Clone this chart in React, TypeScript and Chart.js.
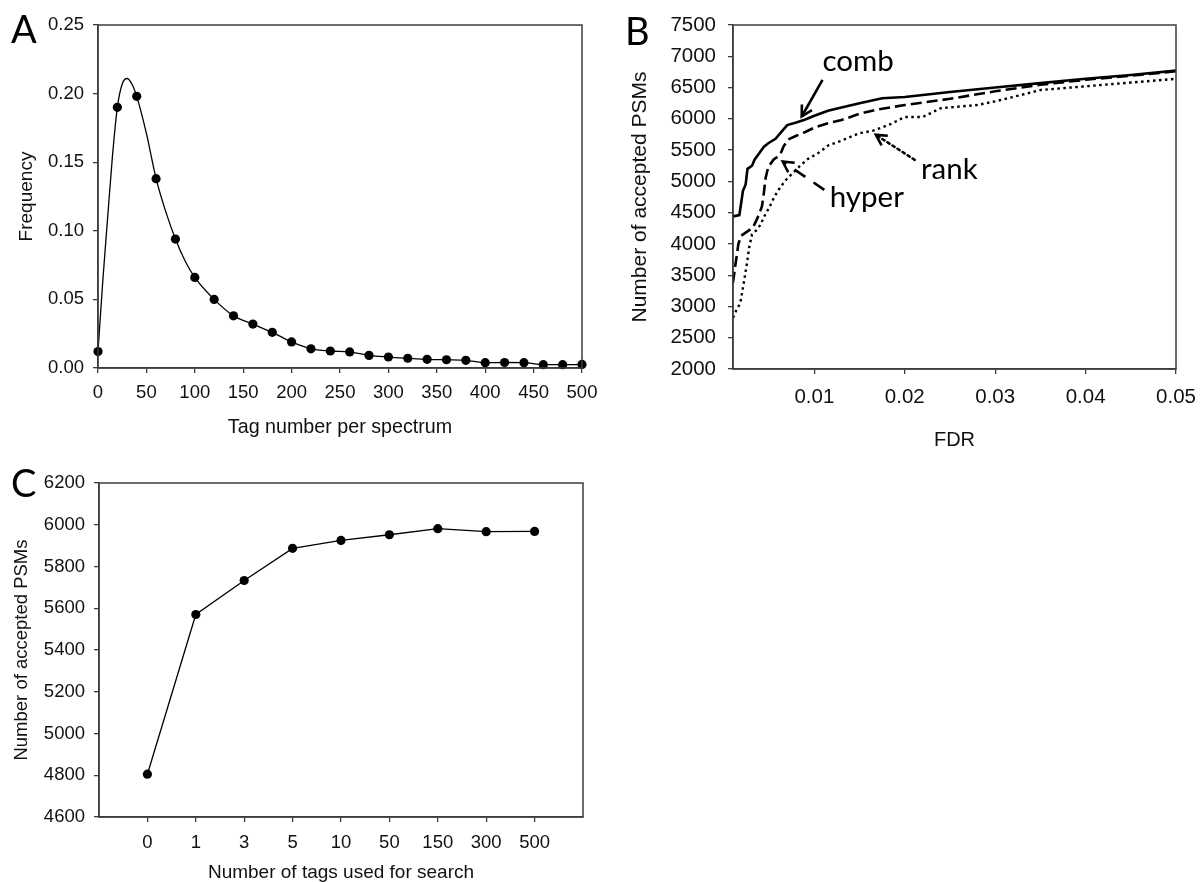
import React, { useEffect, useRef } from 'react';
import { Chart, registerables } from 'chart.js';

Chart.register(...registerables);

// ---------- Panel A data ----------
const tagNumbers = [0, 20, 40, 60, 80, 100, 120, 140, 160, 180, 200, 220, 240, 260, 280, 300, 320, 340, 360, 380, 400, 420, 440, 460, 480, 500];
const tagFrequency = [0.012, 0.19, 0.198, 0.138, 0.094, 0.066, 0.05, 0.038, 0.032, 0.026, 0.019, 0.014, 0.0124, 0.0117, 0.0092, 0.008, 0.0071, 0.0063, 0.006, 0.0056, 0.0039, 0.004, 0.0039, 0.0024, 0.0024, 0.0026];
const fitTagNumbers = [0, 5, 10, 15, 20, 25, 30, 35, 40, 50, 60, 70, 80, 90, 100, 120, 140, 160, 180, 200, 220, 240, 260, 280, 300, 320, 340, 360, 380, 400, 420, 440, 460, 480, 500];
const fitFrequency = [0.012, 0.064, 0.11, 0.155, 0.19, 0.207, 0.211, 0.207, 0.198, 0.171, 0.138, 0.114, 0.094, 0.078, 0.066, 0.05, 0.038, 0.032, 0.026, 0.019, 0.014, 0.0124, 0.0117, 0.0092, 0.008, 0.0071, 0.0063, 0.006, 0.0056, 0.0039, 0.004, 0.0039, 0.0024, 0.0024, 0.0026];
const aXTicks = [0, 50, 100, 150, 200, 250, 300, 350, 400, 450, 500];
const aYTicks = [0, 0.05, 0.1, 0.15, 0.2, 0.25];

// ---------- Panel B data ----------
const combFDR = [0.001, 0.0017, 0.0019, 0.0021, 0.0024, 0.0026, 0.0031, 0.0034, 0.0039, 0.0044, 0.0049, 0.0057, 0.0064, 0.007, 0.008, 0.009, 0.01, 0.0115, 0.013, 0.015, 0.0175, 0.02, 0.025, 0.03, 0.035, 0.04, 0.045, 0.05];
const combPSMs = [4440, 4460, 4650, 4850, 4950, 5200, 5250, 5350, 5450, 5550, 5610, 5680, 5800, 5900, 5940, 5990, 6050, 6130, 6180, 6250, 6330, 6350, 6430, 6500, 6570, 6640, 6700, 6770];
const hyperFDR = [0.001, 0.0013, 0.0016, 0.0019, 0.0026, 0.0032, 0.0036, 0.0039, 0.0042, 0.0044, 0.0046, 0.0049, 0.0055, 0.0062, 0.0066, 0.0071, 0.008, 0.009, 0.01, 0.0115, 0.013, 0.015, 0.017, 0.02, 0.025, 0.03, 0.035, 0.04, 0.045, 0.05];
const hyperPSMs = [3380, 3700, 4000, 4130, 4200, 4260, 4380, 4480, 4600, 4800, 5050, 5230, 5350, 5420, 5560, 5670, 5730, 5790, 5860, 5930, 5980, 6080, 6150, 6220, 6320, 6440, 6545, 6625, 6690, 6760];
const rankFDR = [0.001, 0.0014, 0.0018, 0.0021, 0.0025, 0.0028, 0.0031, 0.0036, 0.004, 0.0045, 0.005, 0.0056, 0.0062, 0.0069, 0.0078, 0.0085, 0.0093, 0.0105, 0.0116, 0.0128, 0.015, 0.0165, 0.0185, 0.02, 0.022, 0.024, 0.028, 0.03, 0.032, 0.035, 0.04, 0.045, 0.05];
const rankPSMs = [2820, 2950, 3050, 3300, 3650, 3950, 4150, 4220, 4300, 4450, 4580, 4760, 4900, 5030, 5160, 5260, 5360, 5460, 5580, 5640, 5770, 5810, 5920, 6030, 6030, 6170, 6220, 6280, 6350, 6460, 6520, 6580, 6640];
const bXTicks = [0.01, 0.02, 0.03, 0.04, 0.05];
const bYTicks = [2000, 2500, 3000, 3500, 4000, 4500, 5000, 5500, 6000, 6500, 7000, 7500];

// annotations (data coordinates)
const noteLabels = ['comb', 'hyper', 'rank'];
const noteFDR = [0.0109, 0.0117, 0.0218];
const notePSMs = [6768, 4592, 5040];
const arrowFromFDR = [0.0109, 0.0111, 0.0211];
const arrowFromPSMs = [6624, 4864, 5344];
const arrowToFDR = [0.0086, 0.0065, 0.0168];
const arrowToPSMs = [6037, 5317, 5744];

// ---------- Panel C data ----------
const tagCountLabels = ['0', '1', '3', '5', '10', '50', '150', '300', '500'];
const acceptedPSMs = [4805, 5570, 5733, 5887, 5925, 5952, 5981, 5967, 5968];
const cYTicks = [4600, 4800, 5000, 5200, 5400, 5600, 5800, 6000, 6200];

const AXIS_COLOR = '#3c3c3c';
const TEXT_COLOR = '#111';
const SANS = "'Liberation Sans', Arial, sans-serif";
const NOTE_FONT = "Lato, 'Open Sans', sans-serif";

const framePlugin = {
  id: 'frameBox',
  afterDraw(chart: any) {
    const { ctx, chartArea: a } = chart;
    ctx.save();
    ctx.strokeStyle = AXIS_COLOR;
    ctx.lineWidth = 1.5;
    ctx.strokeRect(a.left, a.top, a.right - a.left, a.bottom - a.top);
    ctx.restore();
  },
};

function fixedTicks(values: number[]) {
  return (scale: any) => {
    scale.ticks = values.map((v) => ({ value: v }));
  };
}

function makeScale(o: any) {
  return {
    type: 'linear',
    min: o.min,
    max: o.max,
    afterBuildTicks: fixedTicks(o.ticks),
    afterFit: (s: any) => {
      if (o.width !== undefined) s.width = o.width;
      if (o.height !== undefined) s.height = o.height;
      s.paddingLeft = 0;
      s.paddingRight = 0;
      s.paddingTop = 0;
      s.paddingBottom = 0;
    },
    border: { display: true, color: AXIS_COLOR, width: 1.5 },
    grid: { display: true, drawOnChartArea: false, drawTicks: true, tickLength: 5, color: AXIS_COLOR, lineWidth: 1.3 },
    ticks: {
      color: TEXT_COLOR,
      font: { family: SANS, size: o.tickSize },
      padding: o.tickPad,
      maxRotation: 0,
      autoSkip: false,
      callback: o.format,
    },
    title: {
      display: true,
      text: o.title,
      color: TEXT_COLOR,
      font: { family: SANS, size: o.titleSize },
      padding: o.titlePad,
    },
  };
}

const notesPlugin = {
  id: 'notes',
  afterDatasetsDraw(chart: any) {
    const { ctx } = chart;
    const xs = chart.scales.x;
    const ys = chart.scales.y;
    const dashes = [[], [13, 10], [2.5, 3.5]];
    ctx.save();
    ctx.fillStyle = '#000';
    ctx.font = `29.5px ${NOTE_FONT}`;
    ctx.textAlign = 'left';
    ctx.textBaseline = 'alphabetic';
    noteLabels.forEach((t, i) => {
      ctx.fillText(t, xs.getPixelForValue(noteFDR[i]), ys.getPixelForValue(notePSMs[i]));
    });
    ctx.strokeStyle = '#000';
    ctx.lineWidth = 2.6;
    noteLabels.forEach((_, i) => {
      const x1 = xs.getPixelForValue(arrowFromFDR[i]);
      const y1 = ys.getPixelForValue(arrowFromPSMs[i]);
      const x2 = xs.getPixelForValue(arrowToFDR[i]);
      const y2 = ys.getPixelForValue(arrowToPSMs[i]);
      ctx.setLineDash(dashes[i]);
      ctx.lineCap = i === 2 ? 'round' : 'butt';
      ctx.beginPath();
      ctx.moveTo(x1, y1);
      ctx.lineTo(x2, y2);
      ctx.stroke();
      const ang = Math.atan2(y1 - y2, x1 - x2);
      const L = 12;
      ctx.setLineDash([]);
      ctx.lineCap = 'butt';
      ctx.beginPath();
      ctx.moveTo(x2 + L * Math.cos(ang + 0.5), y2 + L * Math.sin(ang + 0.5));
      ctx.lineTo(x2, y2);
      ctx.lineTo(x2 + L * Math.cos(ang - 0.5), y2 + L * Math.sin(ang - 0.5));
      ctx.stroke();
    });
    ctx.restore();
  },
};

function useChart(ref: React.RefObject<HTMLCanvasElement>, build: () => any) {
  useEffect(() => {
    if (!ref.current) return;
    const chart = new Chart(ref.current, build());
    return () => chart.destroy();
  }, []);
}

const baseOptions = {
  animation: false,
  responsive: false,
  devicePixelRatio: 1,
  plugins: { legend: { display: false }, tooltip: { enabled: false } },
};

export default function App() {
  const aRef = useRef<HTMLCanvasElement>(null);
  const bRef = useRef<HTMLCanvasElement>(null);
  const cRef = useRef<HTMLCanvasElement>(null);

  useChart(aRef, () => ({
    type: 'line',
    data: {
      datasets: [
        {
          label: 'fit',
          data: fitTagNumbers.map((x, i) => ({ x, y: fitFrequency[i] })),
          borderColor: '#000',
          borderWidth: 1.3,
          pointRadius: 0,
          cubicInterpolationMode: 'monotone',
          fill: false,
          clip: false,
        },
        {
          label: 'observed',
          data: tagNumbers.map((x, i) => ({ x, y: tagFrequency[i] })),
          showLine: false,
          pointRadius: 4.6,
          pointBackgroundColor: '#000',
          pointBorderColor: '#000',
          pointBorderWidth: 0,
          clip: false,
        },
      ],
    },
    options: {
      ...baseOptions,
      layout: { padding: { left: 0, right: 18, top: 25, bottom: 0 } },
      scales: {
        x: makeScale({ min: 0, max: 500, ticks: aXTicks, height: 82, tickSize: 18.5, tickPad: 9, format: (v: any) => String(v), title: 'Tag number per spectrum', titleSize: 19.7, titlePad: { top: 0, bottom: 11 } }),
        y: makeScale({ min: 0, max: 0.25, ticks: aYTicks, width: 98, tickSize: 18.5, tickPad: 9, format: (v: any) => Number(v).toFixed(2), title: 'Frequency', titleSize: 19, titlePad: { top: 15, bottom: 0 } }),
      },
    },
    plugins: [framePlugin],
  }));

  useChart(bRef, () => ({
    type: 'line',
    data: {
      datasets: [
        { label: 'comb', data: combFDR.map((x, i) => ({ x, y: combPSMs[i] })), borderColor: '#000', borderWidth: 2.6, pointRadius: 0, fill: false },
        { label: 'hyper', data: hyperFDR.map((x, i) => ({ x, y: hyperPSMs[i] })), borderColor: '#000', borderWidth: 2.6, borderDash: [11, 5], pointRadius: 0, fill: false },
        { label: 'rank', data: rankFDR.map((x, i) => ({ x, y: rankPSMs[i] })), borderColor: '#000', borderWidth: 2.4, borderDash: [2.5, 3.5], pointRadius: 0, fill: false },
      ],
    },
    options: {
      ...baseOptions,
      layout: { padding: { left: 0, right: 24, top: 25, bottom: 0 } },
      scales: {
        x: makeScale({ min: 0.001, max: 0.05, ticks: bXTicks, height: 91, tickSize: 20.5, tickPad: 11, format: (v: any) => Number(v).toFixed(2), title: 'FDR', titleSize: 20, titlePad: { top: 0, bottom: 8 } }),
        y: makeScale({ min: 2000, max: 7500, ticks: bYTicks, width: 133, tickSize: 20.5, tickPad: 12, format: (v: any) => String(v), title: 'Number of accepted PSMs', titleSize: 21, titlePad: { top: 28, bottom: 0 } }),
      },
    },
    plugins: [framePlugin, notesPlugin],
  }));

  useChart(cRef, () => ({
    type: 'line',
    data: {
      datasets: [
        {
          label: 'accepted',
          data: acceptedPSMs.map((y, i) => ({ x: i + 1, y })),
          borderColor: '#000',
          borderWidth: 1.3,
          pointRadius: 4.6,
          pointBackgroundColor: '#000',
          pointBorderColor: '#000',
          pointBorderWidth: 0,
          tension: 0,
          fill: false,
          clip: false,
        },
      ],
    },
    options: {
      ...baseOptions,
      layout: { padding: { left: 0, right: 17, top: 33, bottom: 0 } },
      scales: {
        x: makeScale({ min: 0, max: 10, ticks: tagCountLabels.map((_, i) => i + 1), height: 73, tickSize: 18.5, tickPad: 10, format: (v: any) => tagCountLabels[Number(v) - 1] ?? '', title: 'Number of tags used for search', titleSize: 19, titlePad: { top: 0, bottom: 6 } }),
        y: makeScale({ min: 4600, max: 6200, ticks: cYTicks, width: 99, tickSize: 18.5, tickPad: 9, format: (v: any) => String(v), title: 'Number of accepted PSMs', titleSize: 18.5, titlePad: { top: 11, bottom: 0 } }),
      },
    },
    plugins: [framePlugin],
  }));

  const letter: React.CSSProperties = {
    position: 'absolute',
    fontFamily: NOTE_FONT,
    fontSize: 38,
    lineHeight: '38px',
    color: '#000',
  };

  return (
    <div style={{ position: 'fixed', left: 0, top: 0, width: 1200, height: 882, overflow: 'hidden', background: '#fff' }}>
      <canvas ref={aRef} width={600} height={450} style={{ position: 'absolute', left: 0, top: 0, width: 600, height: 450 }} />
      <canvas ref={bRef} width={600} height={460} style={{ position: 'absolute', left: 600, top: 0, width: 600, height: 460 }} />
      <canvas ref={cRef} width={600} height={440} style={{ position: 'absolute', left: 0, top: 450, width: 600, height: 440 }} />
      <div style={{ ...letter, left: 11, top: 9 }}>A</div>
      <div style={{ ...letter, left: 625, top: 11 }}>B</div>
      <div style={{ ...letter, left: 11, top: 463 }}>C</div>
    </div>
  );
}
